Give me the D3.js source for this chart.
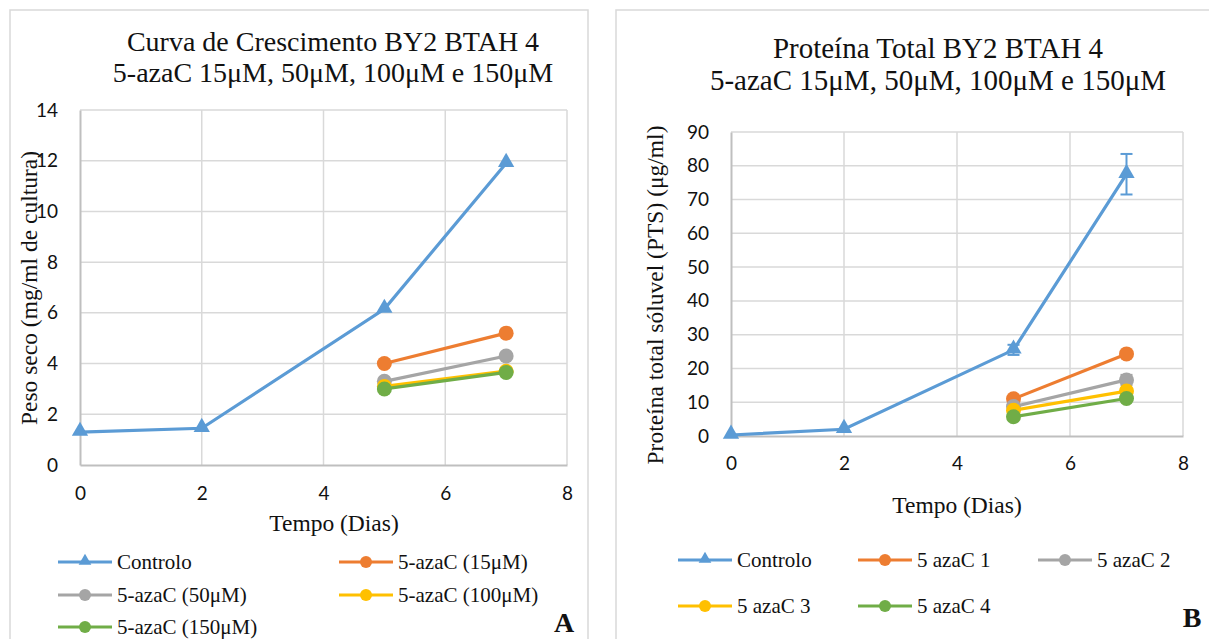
<!DOCTYPE html>
<html>
<head>
<style>
html, body {
    margin: 0;
    padding: 0;
    width: 1209px;
    height: 639px;
    overflow: hidden;
    background: #fff;
}
svg text { fill: #111; }
.tick-label { font-family: Lato, "Open Sans", sans-serif; font-size: 19px; }
.serif { font-family: "Liberation Serif", "Times New Roman", serif; }
</style>
</head>
<body>
<script src="https://d3js.org/d3.v7.min.js"></script>
<script>
// Panel A: peso seco
const daysAll = [0, 2, 5, 7];
const daysAza = [5, 7];
const pesoControlo = [1.3, 1.45, 6.15, 11.9];
const peso15 = [4.0, 5.2];
const peso50 = [3.3, 4.3];
const peso100 = [3.1, 3.7];
const peso150 = [3.0, 3.65];
const pesoLabels = ["Controlo", "5-azaC (15μM)", "5-azaC (50μM)", "5-azaC (100μM)", "5-azaC (150μM)"];
const pesoYTicks = [0, 2, 4, 6, 8, 10, 12, 14];

// Panel B: proteina total soluvel
const ptsControlo = [0.3, 2.0, 25.5, 77.5];
const ptsControloErr = [0.3, 0.5, 1.5, 6];
const pts1 = [11, 24.3];
const pts2 = [8.7, 16.6];
const pts2Err = [0.6, 1.5];
const pts3 = [7.6, 13.3];
const pts4 = [5.7, 11.1];
const ptsLabels = ["Controlo", "5 azaC 1", "5 azaC 2", "5 azaC 3", "5 azaC 4"];
const ptsYTicks = [0, 10, 20, 30, 40, 50, 60, 70, 80, 90];

const xTicks = [0, 2, 4, 6, 8];
const colors = ["#5B9BD5", "#ED7D31", "#A5A5A5", "#FFC000", "#70AD47"];

const svg = d3.select("body").append("svg")
    .attr("width", 1209)
    .attr("height", 639);

// panel frames
svg.append("rect").attr("x", 10).attr("y", 10).attr("width", 578).attr("height", 650)
    .attr("fill", "none").attr("stroke", "#d9d9d9").attr("stroke-width", 1.5);
svg.append("rect").attr("x", 616).attr("y", 10).attr("width", 620).attr("height", 650)
    .attr("fill", "none").attr("stroke", "#d9d9d9").attr("stroke-width", 1.5);

const drawPanel = p => {
    const x = d3.scaleLinear().domain([0, 8]).range([p.left, p.right]);
    const y = d3.scaleLinear().domain([0, p.yMax]).range([p.bottom, p.top]);
    const g = svg.append("g");

    // grid
    g.selectAll(".hgrid").data(p.yTicks.slice(1)).join("line")
        .attr("x1", p.left).attr("x2", p.right)
        .attr("y1", d => y(d)).attr("y2", d => y(d))
        .attr("stroke", "#d9d9d9").attr("stroke-width", 1.5);
    g.selectAll(".vgrid").data(xTicks.slice(1)).join("line")
        .attr("x1", d => x(d)).attr("x2", d => x(d))
        .attr("y1", p.top).attr("y2", p.bottom)
        .attr("stroke", "#d9d9d9").attr("stroke-width", 1.5);

    // axes
    const yAxis = g.append("g").attr("transform", `translate(${p.left},0)`)
        .call(d3.axisLeft(y).tickValues(p.yTicks).tickSize(0).tickPadding(22));
    const xAxis = g.append("g").attr("transform", `translate(0,${p.bottom})`)
        .call(d3.axisBottom(x).tickValues(xTicks).tickSize(0).tickPadding(p.xPad));
    [xAxis, yAxis].forEach(a => {
        a.select(".domain").attr("stroke", "#bfbfbf").attr("stroke-width", 2);
        a.selectAll("text").attr("class", "tick-label").attr("fill", "#111");
    });

    // error bars
    p.series.forEach((s, i) => {
        if (!s.err) return;
        const eb = g.append("g").attr("stroke", colors[i]).attr("stroke-width", 2);
        s.xs.forEach((d, j) => {
            const e = s.err[j];
            if (e < 0.8) return;
            eb.append("line").attr("x1", x(d)).attr("x2", x(d))
                .attr("y1", y(s.ys[j] - e)).attr("y2", y(s.ys[j] + e));
            [s.ys[j] - e, s.ys[j] + e].forEach(v => eb.append("line")
                .attr("x1", x(d) - 6).attr("x2", x(d) + 6)
                .attr("y1", y(v)).attr("y2", y(v)));
        });
    });

    // lines and markers
    const line = d3.line().x(d => x(d[0])).y(d => y(d[1]));
    p.series.forEach((s, i) => {
        const pts = s.xs.map((d, j) => [d, s.ys[j]]);
        g.append("path").datum(pts)
            .attr("d", line)
            .attr("fill", "none")
            .attr("stroke", colors[i])
            .attr("stroke-width", 3.2);
        if (i === 0) {
            g.selectAll(null).data(pts).join("path")
                .attr("transform", d => `translate(${x(d[0])},${y(d[1]) - 1})`)
                .attr("d", d3.symbol(d3.symbolTriangle, 115))
                .attr("fill", colors[i]);
        } else {
            g.selectAll(null).data(pts).join("circle")
                .attr("cx", d => x(d[0])).attr("cy", d => y(d[1]))
                .attr("r", 7.5)
                .attr("fill", colors[i]);
        }
    });

    // titles
    const title = svg.append("text").attr("class", "serif")
        .attr("text-anchor", "middle").style("font-size", p.titleSize + "px");
    p.title.forEach((t, k) => title.append("tspan")
        .attr("x", p.titleX).attr("y", p.titleY + k * p.titleGap).text(t));

    svg.append("text").attr("class", "serif")
        .attr("text-anchor", "middle").style("font-size", "23.5px")
        .attr("x", p.xTitleX).attr("y", p.xTitleY).text("Tempo (Dias)");

    svg.append("text").attr("class", "serif")
        .attr("text-anchor", "middle").style("font-size", "23.5px")
        .attr("transform", `translate(${p.yTitleX},${p.yTitleY}) rotate(-90)`)
        .text(p.yTitle);

    // legend
    p.legend.forEach((pos, i) => {
        const lg = svg.append("g").attr("transform", `translate(${pos[0]},${pos[1]})`);
        lg.append("line").attr("x1", 0).attr("x2", 54).attr("y1", 0).attr("y2", 0)
            .attr("stroke", colors[i]).attr("stroke-width", 3.2);
        if (i === 0) {
            lg.append("path").attr("transform", "translate(27,-1)")
                .attr("d", d3.symbol(d3.symbolTriangle, 70)).attr("fill", colors[i]);
        } else {
            lg.append("circle").attr("cx", 27).attr("cy", 0).attr("r", 6).attr("fill", colors[i]);
        }
        lg.append("text").attr("class", "serif").style("font-size", "21px")
            .attr("x", 59).attr("y", 7).text(p.labels[i]);
    });

    svg.append("text").attr("class", "serif")
        .attr("text-anchor", "middle")
        .style("font-size", "28px").style("font-weight", "bold")
        .attr("x", p.letter[0]).attr("y", p.letter[1]).text(p.letter[2]);
};

drawPanel({
    left: 80, right: 567, top: 110, bottom: 465, yMax: 14,
    yTicks: pesoYTicks, xPad: 22,
    series: [
        { xs: daysAll, ys: pesoControlo },
        { xs: daysAza, ys: peso15 },
        { xs: daysAza, ys: peso50 },
        { xs: daysAza, ys: peso100 },
        { xs: daysAza, ys: peso150 }
    ],
    title: ["Curva de Crescimento BY2 BTAH 4", "5-azaC 15μM, 50μM, 100μM e 150μM"],
    titleX: 333, titleY: 51, titleGap: 31, titleSize: 28,
    xTitleX: 334, xTitleY: 531,
    yTitle: "Peso seco (mg/ml de cultura)", yTitleX: 37, yTitleY: 288,
    labels: pesoLabels,
    legend: [[58, 562], [339, 562], [58, 595], [339, 595], [58, 627]],
    letter: [564, 632, "A"]
});

drawPanel({
    left: 731, right: 1183, top: 132, bottom: 436, yMax: 90,
    yTicks: ptsYTicks, xPad: 21,
    series: [
        { xs: daysAll, ys: ptsControlo, err: ptsControloErr },
        { xs: daysAza, ys: pts1 },
        { xs: daysAza, ys: pts2, err: pts2Err },
        { xs: daysAza, ys: pts3 },
        { xs: daysAza, ys: pts4 }
    ],
    title: ["Proteína Total BY2 BTAH 4", "5-azaC 15μM, 50μM, 100μM e 150μM"],
    titleX: 938, titleY: 58, titleGap: 32, titleSize: 29,
    xTitleX: 957, xTitleY: 513,
    yTitle: "Proteína total sóluvel (PTS) (μg/ml)", yTitleX: 663, yTitleY: 295,
    labels: ptsLabels,
    legend: [[678, 560], [858, 560], [1038, 560], [678, 606], [858, 606]],
    letter: [1192, 627, "B"]
});
</script>
</body>
</html>
